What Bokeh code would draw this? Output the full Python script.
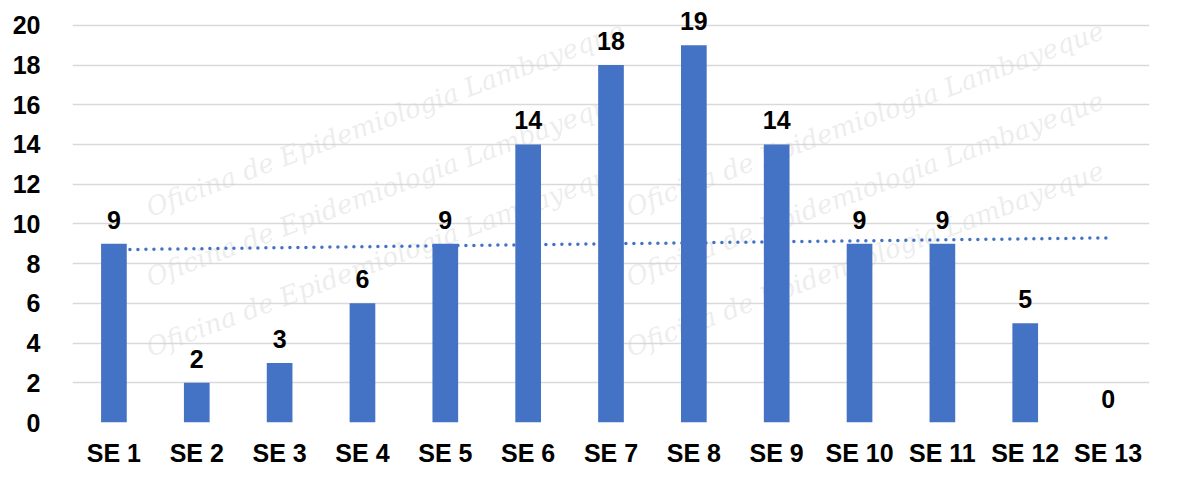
import numpy as np
from bokeh.plotting import figure
from bokeh.models import ColumnDataSource, Range1d, FixedTicker, Label, LabelSet
from bokeh.core.properties import value
from bokeh.embed import file_html
from bokeh.resources import INLINE

categories = ["SE 1", "SE 2", "SE 3", "SE 4", "SE 5", "SE 6", "SE 7",
              "SE 8", "SE 9", "SE 10", "SE 11", "SE 12", "SE 13"]
casos = [9, 2, 3, 6, 9, 14, 18, 19, 14, 9, 9, 5, 0]
y_ticks = [0, 2, 4, 6, 8, 10, 12, 14, 16, 18, 20]
watermark = "Oficina de Epidemiologia Lambayeque"

FONT = "Liberation Sans"
BLUE = "#4472C4"

# linear trendline (least squares fit of the series)
xs = np.arange(1, len(casos) + 1)
slope, intercept = np.polyfit(xs, casos, 1)
trend = [float(intercept + slope * i) for i in xs]

src = ColumnDataSource(dict(cat=categories, val=casos,
                            lab=[str(v) for v in casos], trend=trend))

p = figure(x_range=categories, y_range=Range1d(0, 21.15),
           width=1162, height=471, output_backend="svg",
           toolbar_location=None, min_border_left=72, min_border_right=13,
           min_border_top=2, min_border_bottom=49)
p.outline_line_color = None
p.background_fill_color = "white"

# faint watermark, kept inside the plot area
for row in range(3):
    for col in range(2):
        p.add_layout(Label(x=80 + col * 480, y=60 + row * 70, x_units="screen",
                           y_units="screen", text=watermark, angle=0.36,
                           text_font="DejaVu Serif", text_font_style="italic",
                           text_font_size="26px", text_color="#d6d6d6",
                           text_alpha=0.45, level="underlay"))

p.line(x="cat", y="trend", source=src, line_color=BLUE, line_width=3.5,
       line_dash="0 8", line_cap="round")
p.vbar(x="cat", top="val", width=0.31, source=src, fill_color=BLUE,
       line_color=None)
p.add_layout(LabelSet(x="cat", y="val", text="lab", source=src,
                      text_align="center", text_baseline="bottom", y_offset=15,
                      text_font=value(FONT), text_font_style="bold",
                      text_font_size="25px", text_color="black"))

p.yaxis.ticker = FixedTicker(ticks=y_ticks)
p.yaxis.axis_line_color = None
p.yaxis.major_tick_line_color = None
p.yaxis.minor_tick_line_color = None
p.yaxis.major_label_standoff = 26
p.yaxis.major_label_text_font = FONT
p.yaxis.major_label_text_font_style = "bold"
p.yaxis.major_label_text_font_size = "25px"
p.yaxis.major_label_text_color = "black"

p.xaxis.axis_line_color = None
p.xaxis.major_tick_line_color = None
p.xaxis.major_label_standoff = 10
p.xaxis.major_label_text_font = FONT
p.xaxis.major_label_text_font_style = "bold"
p.xaxis.major_label_text_font_size = "25px"
p.xaxis.major_label_text_color = "black"

p.xgrid.grid_line_color = None
p.ygrid.grid_line_color = "#d9d9d9"
p.ygrid.grid_line_width = 1.5

open("out.html", "w").write(file_html(p, INLINE))
